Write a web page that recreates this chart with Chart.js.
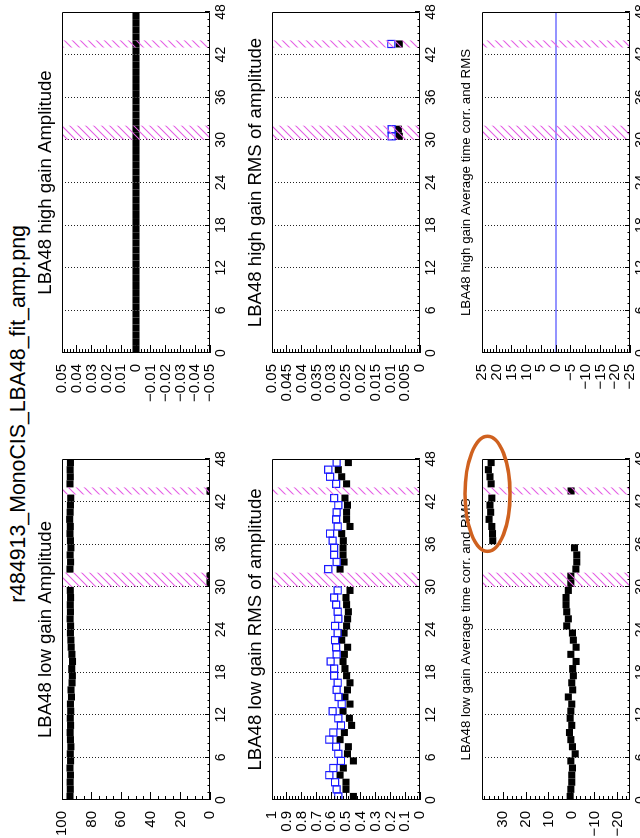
<!DOCTYPE html>
<html>
<head>
<meta charset="utf-8">
<script src="https://cdn.jsdelivr.net/npm/chart.js@4.4.1/dist/chart.umd.min.js"></script>
<style>
  html, body { margin: 0; padding: 0; background: #fff; overflow: hidden; }
  /* the canvas is laid out landscape (838 x 640) and turned a quarter turn to portrait */
  #page { position: absolute; left: 0; top: 0; width: 838px; height: 640px; background: #fff;
          transform-origin: 0 0; transform: translateY(838px) rotate(-90deg); overflow: hidden; }
  #page canvas { position: absolute; background: #fff; }
  #mainTitle { position: absolute; left: 0; top: 6px; width: 848px; text-align: center;
               font: 21.3px "Liberation Sans", Arial, Helvetica, sans-serif; line-height: 24px; color: #000;
               white-space: nowrap; }
</style>
</head>
<body>
<div id="page">
  <div id="mainTitle">r484913_MonoCIS_LBA48_fit_amp.png</div>
</div>
<script>
// ---- data -------------------------------------------------------------
const channels = [0,1,2,3,4,5,6,7,8,9,10,11,12,13,14,15,16,17,18,19,20,21,22,23,
                  24,25,26,27,28,29,30,31,32,33,34,35,36,37,38,39,40,41,42,43,44,45,46,47];
const channelTicks = [0, 6, 12, 18, 24, 30, 36, 42, 48];
const deadChannels = [30, 31, 43];

const lgAmplitude = [94.6, 94.4, 94.5, 94.3, 94.6, 94.2, 94.4, 94.0, 94.3, 94.5,
                     94.2, 94.4, 94.1, 94.3, 93.6, 93.9, 93.2, 93.0, 93.4, 92.9,
                     93.3, 93.8, 94.0, 94.3, 94.2, 94.5, 94.3, 94.4, 94.2, 94.4,
                     0, 0, 94.6, 94.2, 94.5, 94.0, 94.3, 94.6, 94.4, 94.8,
                     94.5, 94.3, 94.1, 0, 94.6, 94.4, 94.5, 94.3];
const hgAmplitude = [0,0,0,0,0,0,0,0,0,0, 0,0,0,0,0,0,0,0,0,0, 0,0,0,0,0,0,0,0,0,0,
                     0,0,0,0,0,0,0,0,0,0, 0,0,0,0,0,0,0,0];

const lgRms = [0.450, 0.500, 0.500, 0.540, 0.518, 0.450, 0.490, 0.484, 0.540, 0.511,
               0.462, 0.477, 0.520, 0.473, 0.507, 0.490, 0.473, 0.496, 0.507, 0.520,
               0.511, 0.489, 0.529, 0.513, 0.496, 0.489, 0.484, 0.496, 0.500, 0.473,
               null, null, 0.540, 0.513, 0.520, 0.520, 0.518, 0.529, 0.473, 0.496,
               0.496, 0.490, 0.507, null, 0.496, 0.529, 0.552, 0.484];
const lgRmsRef = [0.552, 0.563, 0.574, 0.613, 0.586, 0.534, 0.552, 0.567, 0.613, 0.586,
                  0.534, 0.552, 0.590, 0.529, 0.550, 0.563, 0.556, 0.580, 0.580, 0.604,
                  0.563, 0.567, 0.574, 0.556, 0.574, 0.552, 0.556, 0.567, 0.580, 0.556,
                  null, null, 0.620, 0.563, 0.580, 0.580, 0.590, 0.608, 0.556, 0.567,
                  0.563, 0.552, 0.580, null, 0.567, 0.608, 0.620, 0.563];
const hgRms = [null,null,null,null,null,null,null,null,null,null,
               null,null,null,null,null,null,null,null,null,null,
               null,null,null,null,null,null,null,null,null,null,
               0.0070, 0.0073, null,null,null,null,null,null,null,null,
               null,null,null, 0.0070, null,null,null,null];
const hgRmsRef = [null,null,null,null,null,null,null,null,null,null,
                  null,null,null,null,null,null,null,null,null,null,
                  null,null,null,null,null,null,null,null,null,null,
                  0.0096, 0.0096, null,null,null,null,null,null,null,null,
                  null,null,null, 0.0097, null,null,null,null];

const lgTime = [0.7, 0.4, 0.0, 0.0, -0.3, 0.4, -1.5, -0.3, 0.4, 1.0,
                0.0, 0.7, 0.4, 0.0, 1.5, -0.4, 0.0, -0.7, -0.4, -1.9,
                0.4, -1.9, -0.7, -0.3, 2.2, 1.5, 2.2, 2.5, 2.5, 1.5,
                0.4, 0.4, -1.8, -2.2, -2.2, -1.2, 34.6, 34.7, 35.0, 36.2,
                35.5, 35.8, 35.0, 0.3, 35.3, 35.8, 36.5, 35.3];
const hgTimeRms = [0,0,0,0,0,0,0,0,0,0, 0,0,0,0,0,0,0,0,0,0, 0,0,0,0,0,0,0,0,0,0,
                   0,0,0,0,0,0,0,0,0,0, 0,0,0,0,0,0,0,0];

// ---- styling and layout ------------------------------------------------
const FONT = '"Liberation Sans", Arial, Helvetica, sans-serif';
const COLS = [
  { left: 0,   width: 419, axis: 38, padRight: 40 },
  { left: 419, width: 419, axis: 66, padRight: 12 }
];
const ROWS = [
  { frameTop: 62,  head: 27, titleSize: 18.6 },
  { frameTop: 272, head: 27, titleSize: 18.6 },
  { frameTop: 482, head: 24, titleSize: 13.25 }
];
const FRAME_H = 148, AXIS_H = 28;

// labels in the ROOT manner: trimmed decimals, true minus sign
function rootLabel(v) {
  const s = parseFloat(Number(v).toFixed(4)).toString();
  return v < 0 ? '\u2212' + s.replace('-', '') : s;
}

// merge adjacent dead channels into bands [from, to)
function deadBands() {
  const bands = [];
  deadChannels.forEach(c => {
    const last = bands[bands.length - 1];
    if (last && last[1] === c) last[1] = c + 1; else bands.push([c, c + 1]);
  });
  return bands;
}

// diagonal hatching inside a rectangle
function hatch(ctx, x0, x1, top, bottom) {
  ctx.save();
  ctx.beginPath();
  ctx.rect(x0, top, x1 - x0, bottom - top);
  ctx.clip();
  ctx.strokeStyle = 'rgb(228, 92, 228)';
  ctx.lineWidth = 1.1;
  ctx.beginPath();
  const start = Math.floor((x0 + top) / 8) * 8;
  for (let k = start; k <= x1 + bottom + 8; k += 8) {
    ctx.moveTo(k - top, top);
    ctx.lineTo(k - bottom, bottom);
  }
  ctx.stroke();
  ctx.restore();
}

const align = p => Math.round(p + 0.5) - 0.5;

// opaque white page behind each panel
const paper = {
  id: 'paper',
  beforeDraw(chart) {
    const { ctx, width, height } = chart;
    ctx.save();
    ctx.fillStyle = '#fff';
    ctx.fillRect(0, 0, width, height);
    ctx.restore();
  }
};

// hatched dead-channel bands, frame and inward tick marks
const rootFrame = {
  id: 'rootFrame',
  afterDatasetsDraw(chart, args, opts) {
    const { ctx, chartArea: a } = chart;
    const x = chart.scales.x, y = chart.scales.y;
    deadBands().forEach(([from, to]) => {
      hatch(ctx, x.getPixelForValue(from), x.getPixelForValue(to), a.top, a.bottom);
    });
    ctx.save();
    ctx.strokeStyle = '#000';
    ctx.lineWidth = 1;
    ctx.beginPath();
    ctx.rect(a.left + 0.5, a.top + 0.5, a.right - a.left - 1, a.bottom - a.top - 1);
    ctx.stroke();
    ctx.beginPath();
    for (let c = 0; c <= 48; c++) {
      const px = align(x.getPixelForValue(c));
      const len = c % 6 === 0 ? 5 : 2.5;
      ctx.moveTo(px, a.bottom); ctx.lineTo(px, a.bottom - len);
    }
    const first = Math.ceil(y.min / opts.minor - 1e-6);
    const last = Math.floor(y.max / opts.minor + 1e-6);
    for (let i = first; i <= last; i++) {
      const v = i * opts.minor;
      const r = v / opts.major;
      const len = Math.abs(r - Math.round(r)) < 1e-6 ? 8 : 4;
      const py = align(y.getPixelForValue(v));
      ctx.moveTo(a.left, py); ctx.lineTo(a.left + len, py);
    }
    ctx.stroke();
    ctx.restore();
  }
};

// outlined ellipse around a group of points
const ringMark = {
  id: 'ringMark',
  afterDraw(chart, args, opts) {
    if (!opts || !opts.show) return;
    const { ctx } = chart;
    const x = chart.scales.x, y = chart.scales.y;
    const x0 = x.getPixelForValue(opts.fromChannel), x1 = x.getPixelForValue(opts.toChannel);
    const y0 = y.getPixelForValue(opts.fromValue), y1 = y.getPixelForValue(opts.toValue);
    ctx.save();
    ctx.strokeStyle = '#cf611f';
    ctx.lineWidth = 3.5;
    ctx.beginPath();
    ctx.ellipse((x0 + x1) / 2, (y0 + y1) / 2, Math.abs(x1 - x0) / 2, Math.abs(y1 - y0) / 2, 0, 0, Math.PI * 2);
    ctx.stroke();
    ctx.restore();
  }
};

function points(values) {
  return channels.map((c, i) => ({ x: c + 0.5, y: values[i] })).filter(p => p.y !== null);
}
function histLine(values) {
  const pts = [];
  channels.forEach((c, i) => { pts.push({ x: c, y: values[i] }); pts.push({ x: c + 1, y: values[i] }); });
  return pts;
}
const filled = v => ({ data: points(v), pointStyle: 'rect', pointRadius: 5, pointBackgroundColor: '#000',
                       pointBorderWidth: 0, showLine: false, clip: 0 });
const open = v => ({ data: points(v), pointStyle: 'rect', pointRadius: 5, pointBackgroundColor: 'rgba(0,0,0,0)',
                     pointBorderColor: '#1a1aff', pointBorderWidth: 1.2, showLine: false, clip: 0 });
const line = v => ({ data: histLine(v), showLine: true, pointRadius: 0, borderColor: '#2a2aff',
                     borderWidth: 1.2, fill: false, clip: 0 });

const panels = [
  { col: 0, row: 0, title: 'LBA48 low gain Amplitude', y: [0, 100, 20, 5], sets: [filled(lgAmplitude)] },
  { col: 1, row: 0, title: 'LBA48 high gain Amplitude', y: [-0.05, 0.05, 0.01, 0.002], sets: [filled(hgAmplitude)] },
  { col: 0, row: 1, title: 'LBA48 low gain RMS of amplitude', y: [0, 1, 0.1, 0.02], sets: [open(lgRmsRef), filled(lgRms)] },
  { col: 1, row: 1, title: 'LBA48 high gain RMS of amplitude', y: [0, 0.05, 0.005, 0.001], sets: [open(hgRmsRef), filled(hgRms)] },
  { col: 0, row: 2, title: 'LBA48 low gain Average time corr. and RMS', y: [-25.5, 39.3, 10, 2], sets: [filled(lgTime)],
    ring: { show: true, fromChannel: 35.0, toChannel: 51.2, fromValue: 27.0, toValue: 46.7 } },
  { col: 1, row: 2, title: 'LBA48 high gain Average time corr. and RMS', y: [-25, 25, 5, 1], sets: [line(hgTimeRms)] }
];

const page = document.getElementById('page');
panels.forEach(p => {
  const col = COLS[p.col], row = ROWS[p.row];
  const h = row.head + FRAME_H + AXIS_H;
  const cv = document.createElement('canvas');
  cv.width = col.width; cv.height = h;
  cv.style.left = col.left + 'px';
  cv.style.top = (row.frameTop - row.head) + 'px';
  cv.style.width = col.width + 'px';
  cv.style.height = h + 'px';
  page.appendChild(cv);
  const [ymin, ymax, ystep, yminor] = p.y;
  new Chart(cv, {
    type: 'scatter',
    data: { datasets: p.sets },
    options: {
      responsive: false, animation: false, devicePixelRatio: 1, events: [],
      layout: { autoPadding: false, padding: { left: 0, right: col.padRight, top: 0, bottom: 0 } },
      plugins: {
        legend: { display: false },
        tooltip: { enabled: false },
        title: {
          display: true, text: p.title, fullSize: false, color: '#000',
          font: { family: FONT, size: row.titleSize, weight: 'normal', lineHeight: 1.2 },
          padding: { top: 0, bottom: row.head - row.titleSize * 1.2 }
        },
        rootFrame: { major: ystep, minor: yminor },
        ringMark: p.ring || { show: false }
      },
      scales: {
        x: {
          type: 'linear', min: 0, max: 48,
          afterBuildTicks: s => { s.ticks = channelTicks.map(v => ({ value: v })); },
          afterFit: s => { s.height = AXIS_H; },
          ticks: { autoSkip: false, maxRotation: 0, minRotation: 0, padding: 3, color: '#000',
                   font: { family: FONT, size: 14 } },
          grid: { drawTicks: false, lineWidth: 1,
                  color: c => (c.tick && c.tick.value > 0 && c.tick.value < 48) ? '#222' : 'rgba(0,0,0,0)' },
          border: { display: false, dash: [1, 2] }
        },
        y: {
          type: 'linear', min: ymin, max: ymax,
          afterFit: s => { s.width = col.axis; },
          ticks: { stepSize: ystep, autoSkip: false, includeBounds: false, padding: 3, color: '#000',
                   font: { family: FONT, size: 15 }, callback: v => rootLabel(v) },
          grid: { display: false },
          border: { display: false }
        }
      }
    },
    plugins: [paper, rootFrame, ringMark]
  });
});
</script>
</body>
</html>
